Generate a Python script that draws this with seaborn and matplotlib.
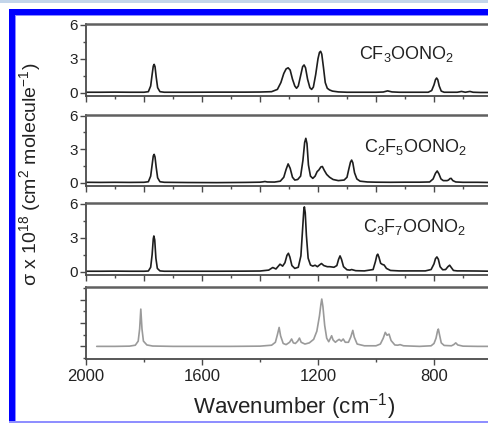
import numpy as np
import pandas as pd
import matplotlib
matplotlib.use("Agg")
import matplotlib.pyplot as plt
from matplotlib.patches import Rectangle
from matplotlib.ticker import MultipleLocator, NullFormatter
import seaborn as sns

# ---------------- data ----------------
labels = ["CF$_3$OONO$_2$", "C$_2$F$_5$OONO$_2$", "C$_3$F$_7$OONO$_2$"]

cf3_wn = [2000, 1950, 1900, 1850, 1800, 1785, 1777, 1772, 1768, 1765, 1762, 1758, 1753, 1745, 1730,
          1650, 1550, 1450, 1400, 1360, 1340, 1328, 1318, 1310, 1303, 1296, 1288, 1280, 1274, 1268,
          1260, 1253, 1248, 1243, 1236, 1228, 1222, 1216, 1208, 1200, 1195, 1191, 1187, 1181, 1175,
          1168, 1160, 1150, 1130, 1100, 1050, 1000, 975, 960, 945, 920, 880, 840, 820, 808, 800, 795,
          791, 787, 782, 775, 765, 740, 720, 705, 692, 676, 665, 640, 600]
cf3_s = [0.05, 0.05, 0.06, 0.05, 0.05, 0.1, 0.6, 1.6, 2.35, 2.5, 2.3, 1.4, 0.45, 0.1, 0.05,
         0.05, 0.06, 0.06, 0.07, 0.1, 0.3, 0.9, 1.7, 2.1, 2.2, 2.0, 1.2, 0.6, 0.4, 0.6,
         1.5, 2.3, 2.45, 2.2, 1.2, 0.45, 0.3, 0.5, 1.6, 3.0, 3.55, 3.65, 3.4, 2.2, 0.9,
         0.4, 0.25, 0.15, 0.08, 0.05, 0.05, 0.05, 0.07, 0.17, 0.08, 0.05, 0.05, 0.05, 0.05, 0.2, 0.7, 1.15,
         1.3, 1.15, 0.6, 0.15, 0.05, 0.05, 0.05, 0.12, 0.05, 0.12, 0.05, 0.03, 0.03]

c2f5_wn = [2000, 1950, 1900, 1850, 1800, 1785, 1777, 1772, 1768, 1765, 1762, 1758, 1753, 1745, 1730,
           1650, 1550, 1450, 1400, 1390, 1383, 1375, 1350, 1330, 1318, 1310, 1303, 1296, 1288, 1280,
           1270, 1260, 1252, 1246, 1242, 1238, 1233, 1226, 1218, 1210, 1203, 1197, 1190, 1185, 1178,
           1170, 1160, 1148, 1130, 1110, 1100, 1094, 1088, 1084, 1080, 1074, 1066, 1055, 1030, 1000,
           950, 900, 850, 815, 803, 795, 789, 783, 776, 768, 755, 750, 745, 741, 735, 725, 700, 650, 600]
c2f5_s = [0.05, 0.04, 0.05, 0.04, 0.05, 0.1, 0.6, 1.6, 2.4, 2.54, 2.3, 1.4, 0.45, 0.1, 0.05,
          0.03, 0.02, 0.04, 0.06, 0.09, 0.12, 0.08, 0.07, 0.15, 0.5, 1.2, 1.69, 1.3, 0.5, 0.25,
          0.3, 0.6, 2.0, 3.6, 3.97, 3.5, 1.6, 0.6, 0.4, 0.6, 1.0, 1.15, 1.42, 1.46, 1.1,
          0.75, 0.5, 0.3, 0.2, 0.25, 0.5, 1.2, 1.85, 2.03, 1.8, 0.9, 0.35, 0.15, 0.08, 0.06,
          0.05, 0.06, 0.06, 0.08, 0.35, 0.85, 1.06, 0.8, 0.35, 0.2, 0.2, 0.25, 0.38, 0.4, 0.2, 0.08, 0.05, 0.05, 0.03]

c3f7_wn = [2000, 1950, 1900, 1850, 1800, 1785, 1777, 1772, 1768, 1766, 1763, 1759, 1754, 1745, 1730,
           1650, 1550, 1450, 1400, 1370, 1356, 1345, 1331, 1322, 1314, 1307, 1302, 1297, 1290, 1280,
           1268, 1259, 1253, 1249, 1247, 1244, 1240, 1234, 1226, 1218, 1210, 1202, 1195, 1188, 1180,
           1168, 1159, 1145, 1135, 1129, 1124, 1119, 1112, 1100, 1090, 1084, 1070, 1040, 1010, 1002,
           997, 994, 990, 984, 978, 972, 964, 950, 920, 880, 830, 810, 800, 795, 790, 785, 779,
           770, 760, 752, 746, 741, 733, 720, 700, 650, 600]
c3f7_s = [0.05, 0.05, 0.06, 0.05, 0.05, 0.07, 0.4, 1.5, 2.9, 3.15, 2.8, 1.2, 0.3, 0.08, 0.05,
          0.05, 0.05, 0.06, 0.07, 0.15, 0.38, 0.25, 0.67, 0.5, 0.8, 1.45, 1.63, 1.3, 0.55, 0.3,
          0.4, 1.4, 3.8, 5.4, 5.71, 5.2, 3.2, 1.2, 0.6, 0.5, 0.58, 0.45, 0.6, 0.73, 0.55,
          0.45, 0.45, 0.4, 0.55, 1.1, 1.4, 1.1, 0.45, 0.18, 0.15, 0.2, 0.1, 0.08, 0.2, 0.9,
          1.45, 1.55, 1.3, 0.75, 0.65, 0.6, 0.3, 0.12, 0.08, 0.08, 0.08, 0.2, 0.7, 1.15, 1.31, 1.1, 0.45,
          0.18, 0.2, 0.45, 0.58, 0.4, 0.12, 0.08, 0.08, 0.07, 0.05]

calc_wn = [1963, 1900, 1850, 1830, 1820, 1815, 1811, 1807, 1802, 1790, 1770, 1700, 1600, 1500,
           1400, 1360, 1347, 1340, 1334, 1329, 1320, 1310, 1298, 1291, 1285, 1278, 1270, 1264, 1258,
           1245, 1230, 1215, 1204, 1195, 1190, 1187, 1183, 1177, 1170, 1163, 1157, 1153, 1148, 1140,
           1133, 1127, 1120, 1113, 1106, 1095, 1087, 1080, 1075, 1065, 1040, 1000, 985, 975, 968,
           962, 955, 948, 935, 925, 917, 905, 850, 810, 800, 793, 788, 785, 781, 775, 765, 740,
           732, 725, 718, 700, 650, 600]
calc_s = [0.0, 0.0, 0.02, 0.1, 0.45, 1.5, 3.19, 1.5, 0.45, 0.12, 0.03, 0.0, 0.0, 0.0,
          0.02, 0.1, 0.35, 1.0, 1.62, 0.9, 0.25, 0.15, 0.35, 0.63, 0.3, 0.25, 0.45, 0.71, 0.35,
          0.2, 0.3, 0.6, 1.3, 2.6, 3.6, 4.05, 3.4, 1.8, 0.7, 0.4, 0.7, 0.91, 0.55, 0.35,
          0.5, 0.6, 0.45, 0.63, 0.35, 0.35, 0.8, 1.37, 0.8, 0.2, 0.05, 0.05, 0.2, 0.7, 1.2,
          0.95, 1.05, 0.5, 0.12, 0.1, 0.15, 0.05, 0.0, 0.05, 0.25, 0.7, 1.3, 1.48, 1.0, 0.3, 0.08, 0.05,
          0.15, 0.3, 0.12, 0.02, 0.0, 0.0]

# ---------------- style ----------------
sns.set_style("ticks")
plt.rcParams["font.family"] = ["Liberation Sans", "DejaVu Sans"]
plt.rcParams["mathtext.default"] = "regular"

W, H = 488, 423
fig = plt.figure(figsize=(W / 100, H / 100), dpi=100)
fig.patch.set_facecolor("white")

def fx(px):
    return px / W

def fy(px):
    return 1 - px / H

left_px, right_px = 86, 492
panels_px = [(24, 96), (115, 186), (203, 275), (287, 359)]
axes = []
for top, bot in panels_px:
    ax = fig.add_axes([fx(left_px), fy(bot), fx(right_px - left_px), (bot - top) / H])
    axes.append(ax)

spine_col = "#4a4a4a"
exp_data = [(cf3_wn, cf3_s), (c2f5_wn, c2f5_s), (c3f7_wn, c3f7_s)]
label_pos = [(1058, 3.0), (1040, 2.72), (1046, 3.5)]

for i, ax in enumerate(axes):
    if i < 3:
        wn, s = exp_data[i]
        df = pd.DataFrame({"wn": wn, "s": s})
        sns.lineplot(data=df, x="wn", y="s", ax=ax, color="#1e1e1e", lw=1.2)
        ax.set_ylim(-0.28, 6.05)
        ax.yaxis.set_major_locator(MultipleLocator(3))
        ax.yaxis.set_minor_locator(MultipleLocator(1.5))
        ax.xaxis.set_major_locator(MultipleLocator(200))
        ax.xaxis.set_minor_locator(MultipleLocator(100))
        ax.tick_params(axis="x", labelbottom=False)
        lx, ly = label_pos[i]
        ax.text(lx, ly, labels[i], fontsize=13, color="#222222", ha="left", va="baseline")
    else:
        df = pd.DataFrame({"wn": calc_wn, "s": calc_s})
        sns.lineplot(data=df, x="wn", y="s", ax=ax, color="#9a9a9a", lw=1.2)
        ax.set_ylim(-1.08, 5.08)
        ax.yaxis.set_major_locator(MultipleLocator(2))
        ax.yaxis.set_minor_locator(MultipleLocator(1))
        ax.yaxis.set_major_formatter(NullFormatter())
        ax.xaxis.set_major_locator(MultipleLocator(400))
        ax.xaxis.set_minor_locator(MultipleLocator(200))
        ax.tick_params(axis="x", labelsize=12, pad=3, labelcolor="#222222")
        ax.set_xlabel("Wavenumber (cm$^{-1}$)", fontsize=16, color="#222222")
        ax.xaxis.set_label_coords((294 - left_px) / (right_px - left_px), -0.45)
    ax.set_xlim(2000, 600)
    ax.set_ylabel("")
    if i < 3:
        ax.set_xlabel("")
    for sp in ax.spines.values():
        sp.set_color(spine_col)
        sp.set_linewidth(1.3)
    ax.spines["top"].set_linewidth(1.8)
    ax.spines["top"].set_color("#606060")
    ax.tick_params(axis="both", which="major", direction="out", length=4, width=1, color=spine_col)
    ax.tick_params(axis="both", which="minor", direction="out", length=2.5, width=1, color=spine_col)
    ax.tick_params(axis="y", labelsize=11, pad=2, labelcolor="#222222")
    ax.set_facecolor("white")

fig.text(fx(30), fy(174), "σ x 10$^{18}$ (cm$^{2}$ molecule$^{-1}$)", rotation=90,
         fontsize=14, color="#222222", ha="center", va="center")

# frame decoration
def rect(x0, y0, x1, y1, color):
    fig.patches.append(Rectangle((fx(x0), fy(y1)), fx(x1 - x0), (y1 - y0) / H,
                                 transform=fig.transFigure, facecolor=color,
                                 edgecolor="none", zorder=0))

rect(0, 0, W, 3, "#c3d5ea")
rect(9, 9, W, 15, "#0000ff")
rect(9, 9, 15, 421, "#0000ff")
rect(15, 15, 16, 421, "#8c8cff")
rect(15, 15, W, 16, "#8c8cff")
rect(9, 420.5, W, 423, "#8f8fff")

fig.savefig("out.png", dpi=100)
